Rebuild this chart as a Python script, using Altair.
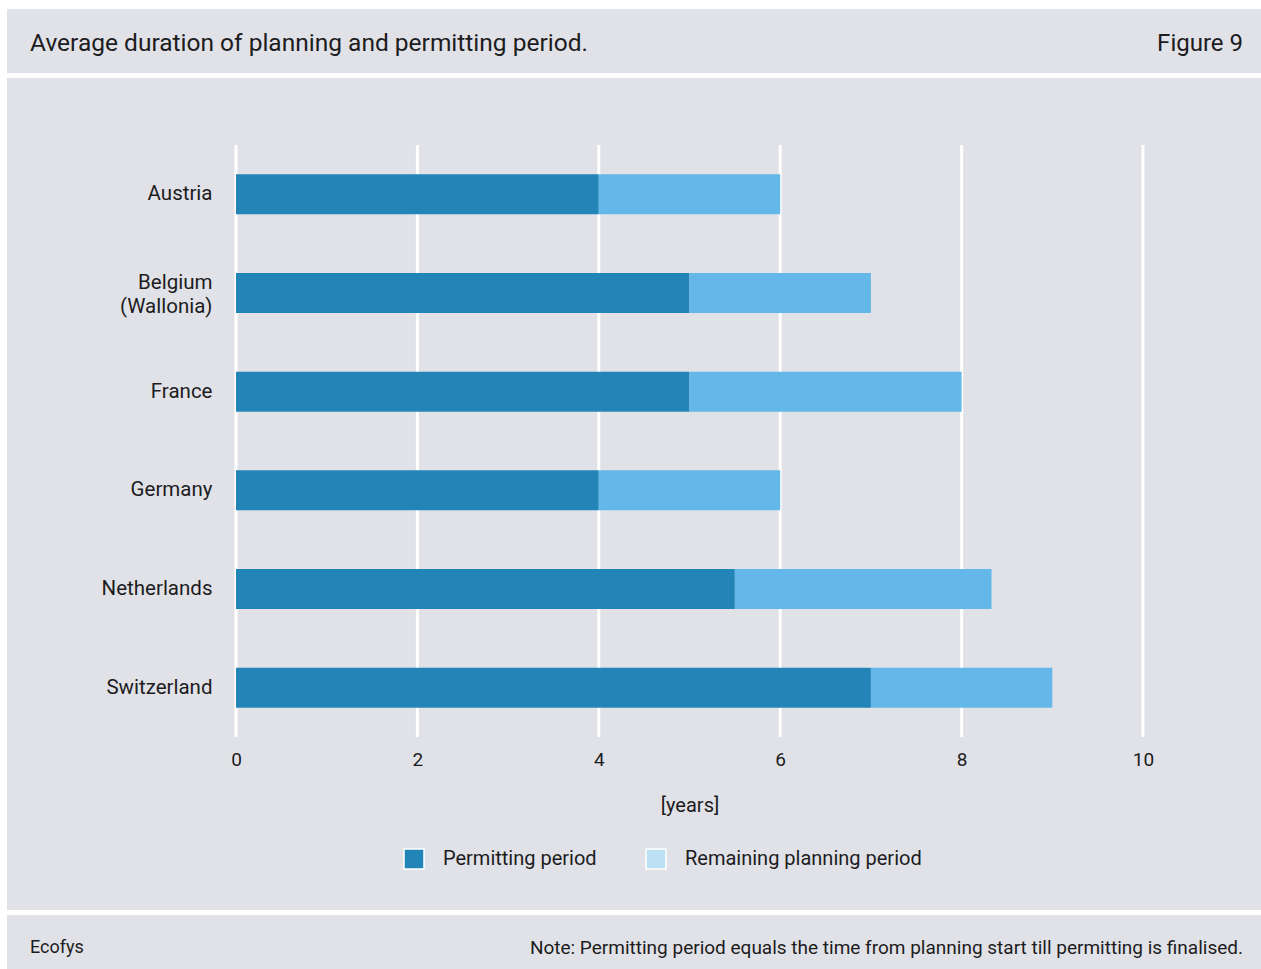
import altair as alt
import pandas as pd

# ---- data ----
countries = ["Austria", "Belgium (Wallonia)", "France", "Germany", "Netherlands", "Switzerland"]
permitting = [4.0, 5.0, 5.0, 4.0, 5.5, 7.0]
total_planning = [6.0, 7.0, 8.0, 6.0, 8.33, 9.0]
x_ticks = [0, 2, 4, 6, 8, 10]
series = ["Permitting period", "Remaining planning period"]

TITLE = "Average duration of planning and permitting period."
FIG = "Figure 9"
SOURCE = "Ecofys"
NOTE = "Note: Permitting period equals the time from planning start till permitting is finalised."
X_TITLE = "[years]"

# ---- styling ----
FONT = "Roboto"
TXT = "#1c1c1e"
BG = "#e1e2e7"
DARK = "#2384b8"
MID = "#63b8e9"
LIGHT = "#bde0f5"

W = 1254
H_HEAD, H_MAIN, H_FOOT = 64, 832, 54

rows = []
for c, p, t in zip(countries, permitting, total_planning):
    rows.append({"country": c, "segment": series[0], "start": 0.0, "end": p})
    rows.append({"country": c, "segment": series[1], "start": p, "end": t})
df = pd.DataFrame(rows)
ticks_df = pd.DataFrame({"tick": x_ticks})

x_scale = alt.Scale(domain=[0, 10], range=[229, 1136], nice=False, zero=True)
y_scale = alt.Scale(domain=countries, range=[67, 659], paddingInner=0.595, paddingOuter=0.2975)

label_expr = ("indexof(datum.label, ' (') > 0 ? "
              "[slice(datum.label, 0, indexof(datum.label, ' (')), "
              "slice(datum.label, indexof(datum.label, ' (') + 1)] : datum.label")

x_axis = alt.Axis(values=x_ticks, format="d", title=X_TITLE, domain=False, ticks=False,
                  grid=False, labelFlush=False,
                  labelFontSize=19, labelFont=FONT, labelColor=TXT, labelPadding=13,
                  offset=-173, titleFont=FONT, titleFontSize=20,
                  titleFontWeight="normal", titleColor=TXT, titlePadding=26)

grid = alt.Chart(ticks_df).mark_rule(color="white", strokeWidth=3).encode(
    x=alt.X("tick:Q", scale=x_scale, axis=x_axis),
    y=alt.value(67),
    y2=alt.value(659),
)

bars = alt.Chart(df).mark_bar(strokeWidth=0).encode(
    y=alt.Y("country:N", scale=y_scale, sort=countries,
            axis=alt.Axis(title=None, domain=False, ticks=False, grid=False,
                          labelFontSize=20.5, labelFont=FONT, labelColor=TXT,
                          labelPadding=24, offset=-229, labelLimit=400,
                          labelExpr=label_expr, labelLineHeight=24,
                          labelOffset={"condition": {"test": "indexof(datum.label, ' (') > 0",
                                                     "value": -10},
                                       "value": 0})),
    x=alt.X("start:Q", scale=x_scale, axis=x_axis),
    x2="end:Q",
    color=alt.Color("segment:N", scale=alt.Scale(domain=series, range=[DARK, MID]), legend=None),
)

legend_layer = alt.Chart(df).mark_bar(opacity=0).encode(
    y=alt.Y("country:N", scale=y_scale, sort=countries),
    x=alt.X("start:Q", scale=x_scale),
    x2="end:Q",
    color=alt.Color("segment:N", scale=alt.Scale(domain=series, range=[DARK, LIGHT]),
                    legend=alt.Legend(title=None, orient="none", legendX=396, legendY=770,
                                      direction="horizontal", symbolType="square",
                                      symbolSize=400, symbolStrokeColor="white",
                                      symbolStrokeWidth=1.5, symbolOpacity=1,
                                      labelFont=FONT, labelFontSize=20, labelColor=TXT,
                                      labelOffset=18, columnPadding=46, labelLimit=400)),
)

main = alt.layer(grid, bars, legend_layer).resolve_scale(color="independent").properties(
    width=W, height=H_MAIN)

head_df = pd.DataFrame({"left": [TITLE], "right": [FIG]})
head_l = alt.Chart(head_df).mark_text(align="left", baseline="middle", font=FONT,
                                      fontSize=24.5, color=TXT).encode(
    x=alt.value(23), y=alt.value(35), text="left:N")
head_r = alt.Chart(head_df).mark_text(align="right", baseline="middle", font=FONT,
                                      fontSize=24, color=TXT).encode(
    x=alt.value(1236), y=alt.value(35), text="right:N")
header = alt.layer(head_l, head_r).properties(width=W, height=H_HEAD)

foot_df = pd.DataFrame({"left": [SOURCE], "right": [NOTE]})
foot_l = alt.Chart(foot_df).mark_text(align="left", baseline="middle", font=FONT,
                                      fontSize=18, color=TXT).encode(
    x=alt.value(23), y=alt.value(33), text="left:N")
foot_r = alt.Chart(foot_df).mark_text(align="right", baseline="middle", font=FONT,
                                      fontSize=19, color=TXT).encode(
    x=alt.value(1236), y=alt.value(33), text="right:N")
footer = alt.layer(foot_l, foot_r).properties(width=W, height=H_FOOT)

chart = alt.vconcat(header, main, footer, spacing=5).properties(
    padding={"left": 7, "top": 9, "right": 0, "bottom": 0},
    background="white",
).configure_view(fill=BG, stroke="transparent", strokeWidth=0)

chart.save("out.html", embed_options={"renderer": "svg", "actions": False})
